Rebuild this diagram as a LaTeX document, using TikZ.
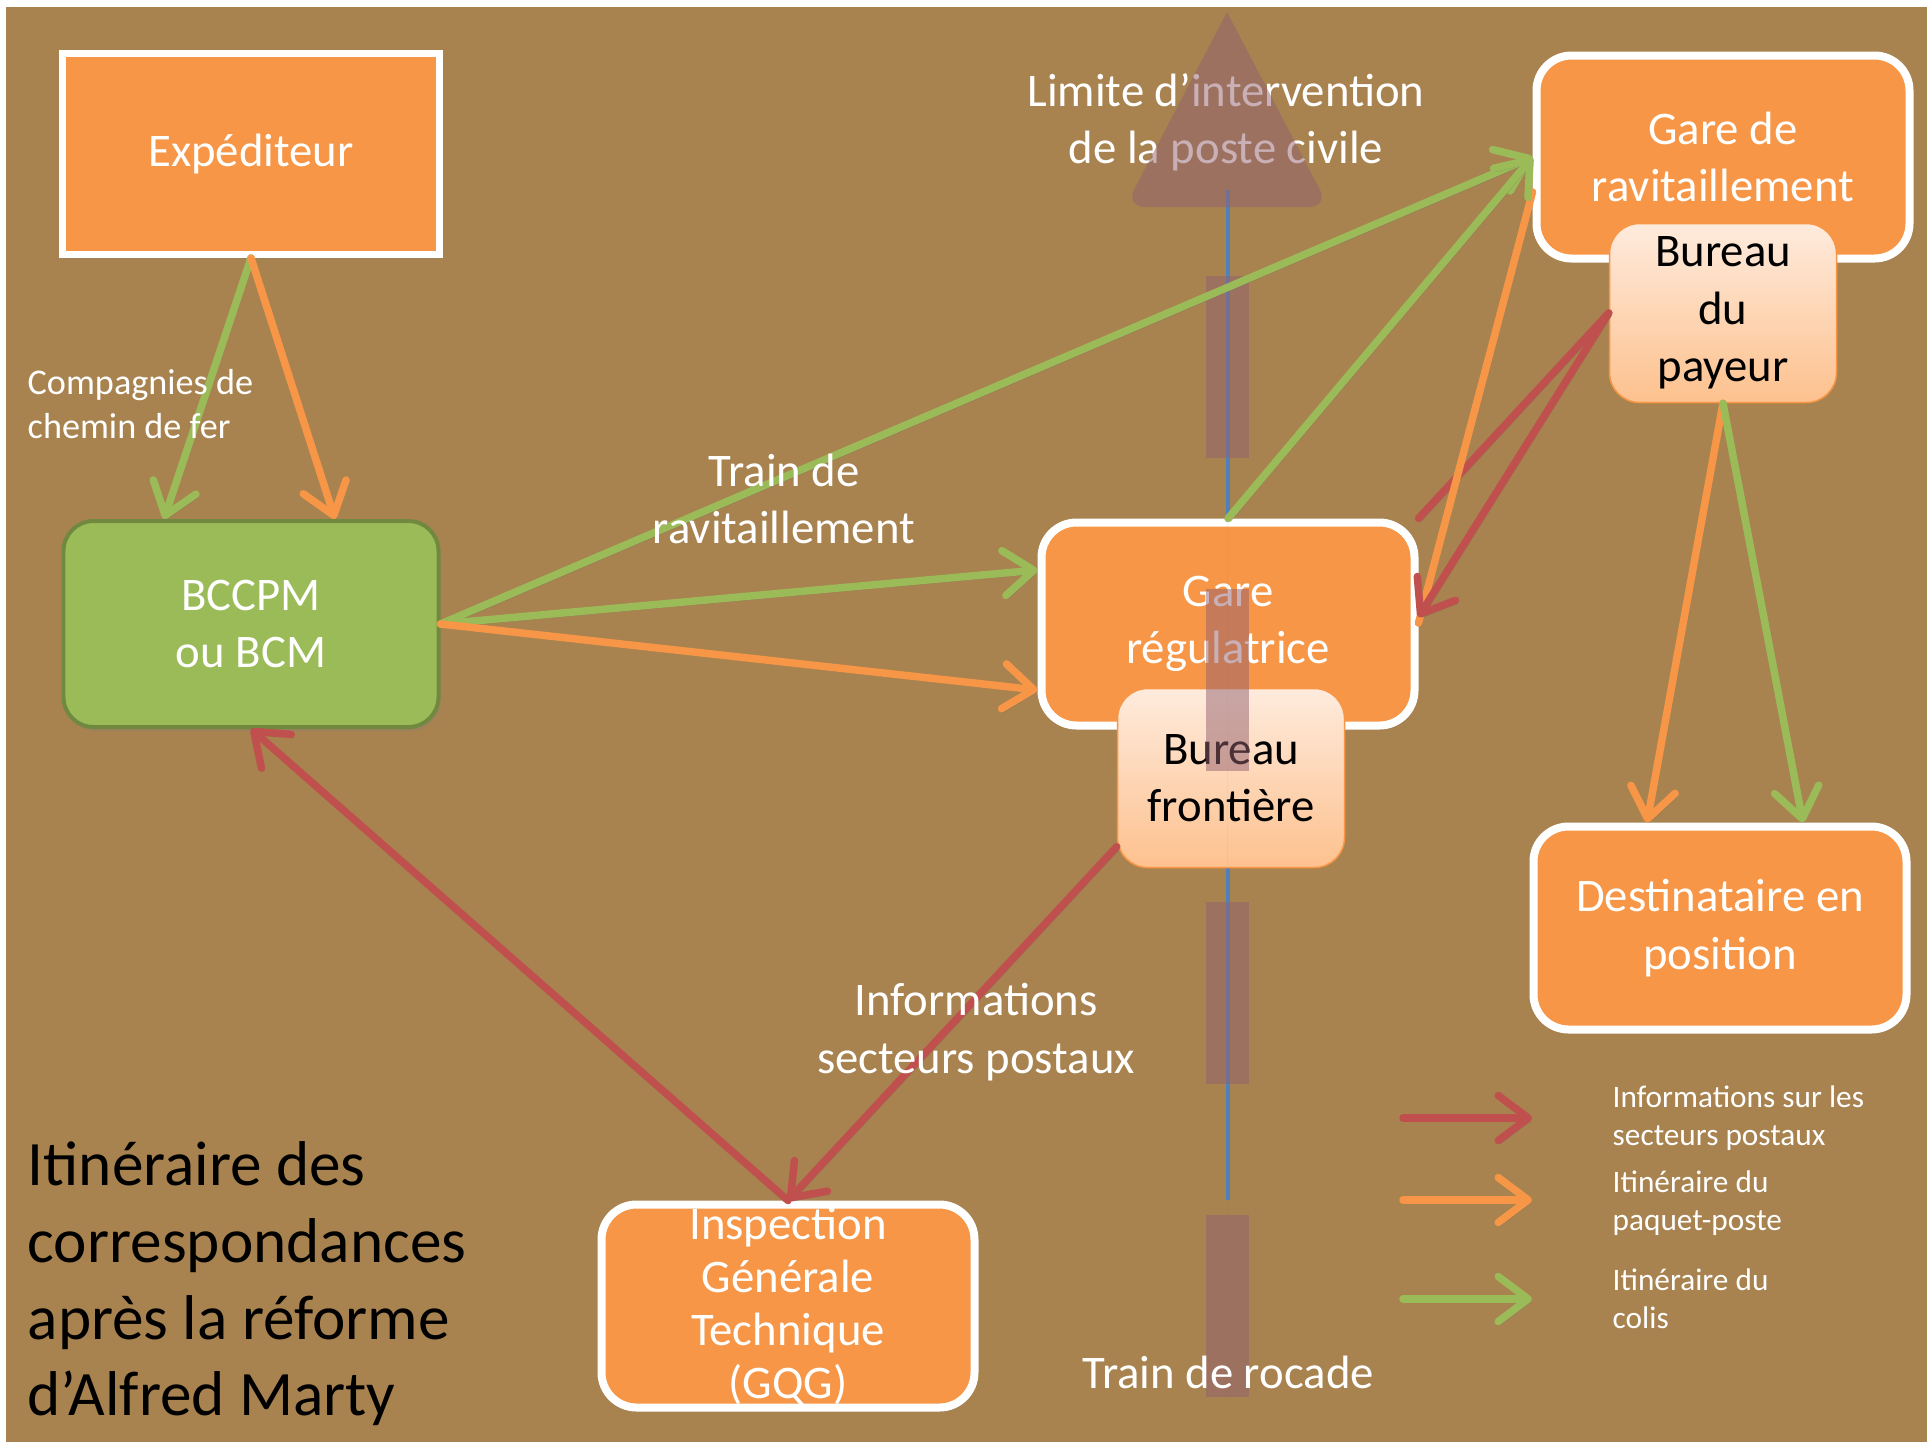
\documentclass[tikz,border=0pt]{standalone}
\usepackage{fontspec}
\setmainfont{Carlito}
\usetikzlibrary{shapes.geometric, arrows.meta, calc, shadows}
\definecolor{bgbrown}{HTML}{A8834F}
\definecolor{boxorange}{HTML}{F79646}
\definecolor{boxgreen}{HTML}{9BBB59}
\definecolor{boxgreendark}{HTML}{71893F}
\definecolor{infored}{HTML}{C0504D}
\definecolor{lineblue}{HTML}{4F81BD}
\definecolor{peachtop}{HTML}{FEEBDD}
\definecolor{peachbot}{HTML}{FDC18E}
\definecolor{limitcol}{HTML}{94616F}
\tikzstyle{sender} = [rectangle, minimum width=3.77cm, minimum height=2.01cm, text centered, draw=white, line width=0.07cm, fill=boxorange, text=white, font=\fontsize{13.3}{16.3}\selectfont, drop shadow={shadow xshift=0.02cm, shadow yshift=-0.04cm, opacity=0.3}]
\tikzstyle{bcm} = [rectangle, rounded corners=0.3cm, minimum width=3.75cm, minimum height=2.06cm, align=center, draw=boxgreendark, line width=0.04cm, fill=boxgreen, text=white, font=\fontsize{13.3}{16.3}\selectfont, drop shadow={shadow xshift=0.02cm, shadow yshift=-0.04cm, opacity=0.3}]
\tikzstyle{station} = [rectangle, rounded corners=0.35cm, minimum width=3.73cm, minimum height=2.03cm, align=center, draw=white, line width=0.08cm, fill=boxorange, text=white, font=\fontsize{13.3}{16.3}\selectfont, drop shadow={shadow xshift=0.02cm, shadow yshift=-0.04cm, opacity=0.3}]
\tikzstyle{bureau} = [rectangle, rounded corners=0.3cm, minimum width=2.27cm, minimum height=1.79cm, inner sep=0.05cm, align=center, draw=boxorange, line width=0.015cm, top color=peachtop, bottom color=peachbot, text=black, font=\fontsize{13.3}{16.3}\selectfont]
\tikzstyle{caption} = [text=white, align=center, font=\fontsize{13.3}{16.3}\selectfont]
\tikzstyle{legend} = [text=white, align=left, anchor=west, inner sep=0, font=\fontsize{8.9}{10.8}\selectfont]
\tikzstyle{arrow} = [line width=0.075cm, line cap=round, -{Straight Barb[length=0.3cm, width=0.45cm, round]}, preaction={draw=black!60, opacity=0.35, transform canvas={shift={(0.02,-0.03)}}}]
\tikzstyle{info} = [arrow, draw=infored]
\tikzstyle{paquet} = [arrow, draw=boxorange]
\tikzstyle{colis} = [arrow, draw=boxgreen]
\tikzstyle{limit} = [fill=limitcol, opacity=0.5]

\begin{document}
\begin{tikzpicture}[node distance=4.7cm]

    \useasboundingbox (0,0) rectangle (19.30,-14.42);
    \fill [white] (0,0) rectangle (19.30,-14.42);
    \fill [bgbrown] (0.06,-0.07) rectangle (19.27,-14.42);

    % ligne du front
    \coordinate (front_top) at (12.28,-1.90);
    \coordinate (front_bot) at (12.28,-12.00);
    \draw [lineblue, line width=0.045cm] (front_top) -- (front_bot);

    \node (exped) [sender] at (2.51,-1.54) {Expéditeur};
    \node (bccpm) [bcm, below of=exped] {BCCPM\\ou BCM};
    \node (gare_reg) [station, right of=bccpm, xshift=5.07cm] {Gare\\régulatrice};
    \node (bur_front) [bureau, below of=gare_reg, xshift=0.03cm, yshift=3.16cm] {Bureau\\frontière};
    \node (gare_rav) [station, above of=gare_reg, xshift=4.95cm, yshift=-0.03cm] {Gare de\\ravitaillement};
    \node (bur_pay) [bureau, below of=gare_rav, yshift=3.14cm] {Bureau\\du\\payeur};
    \node (dest) [station, below of=bur_pay, xshift=-0.03cm, yshift=-1.45cm] {Destinataire en\\position};
    \node (igt) [station, below of=bccpm, xshift=5.37cm, yshift=-2.12cm, inner ysep=0cm, font=\fontsize{13.3}{15.1}\selectfont] {Inspection\\Générale\\Technique\\(GQG)};

    \node (limit_label) [caption] at (12.26,-1.22) {Limite d’intervention\\de la poste civile};

    % grande fleche de la limite
    \fill [limit] (12.27,-0.12) [rounded corners=0.2cm] -- (11.25,-2.07) -- (13.29,-2.07) [sharp corners] -- cycle;
    \draw [limit, line width=0.43cm, draw=limitcol, dash pattern=on 1.82cm off 1.31cm] (12.27,-13.97) -- (12.27,-2.76);

    \draw [colis] (exped.south) -- ([xshift=-0.87cm]bccpm.north);
    \draw [paquet] (exped.south) -- ([xshift=0.84cm]bccpm.north);
    \draw [colis] (bccpm.east) -- (gare_rav.west);
    \draw [colis] (bccpm.east) -- ([yshift=0.54cm]gare_reg.west);
    \draw [paquet] (bccpm.east) -- ([yshift=-0.66cm]gare_reg.west);
    \draw [info, -] (bur_pay.west) -- (gare_reg.north east);
    \draw [paquet, -] ([yshift=0.01cm]gare_reg.east) -- ([yshift=-0.35cm]gare_rav.west);
    \draw [info] (bur_pay.west) -- ([yshift=0.07cm]gare_reg.east);
    \draw [colis] (gare_reg.north) -- (gare_rav.west);
    \draw [paquet] (bur_pay.south) -- ([xshift=-0.73cm]dest.north);
    \draw [colis] (bur_pay.south) -- ([xshift=0.83cm]dest.north);
    \draw [info] (bur_front.211) -- (igt.north);
    \draw [info] (igt.north) -- (bccpm.south);

    \node (rail_label) [text=white, align=left, anchor=west, inner sep=0, font=\fontsize{10.3}{12.6}\selectfont] at (0.27,-4.04) {Compagnies de\\chemin de fer};
    \node (rav_label) [caption] at (7.84,-4.99) {Train de\\ravitaillement};
    \node (info_label) [caption] at (9.76,-10.32) {Informations\\secteurs postaux};
    \node (rocade_label) [caption] at (12.28,-13.72) {Train de rocade};
    \node (title) [text=black, align=left, anchor=west, inner sep=0, font=\fontsize{18}{21.8}\selectfont] at (0.27,-12.84) {Itinéraire des\\correspondances\\après la réforme\\d’Alfred Marty};

    % legende
    \coordinate (leg_info_a) at (14.03,-11.18);
    \coordinate (leg_info_b) at (15.32,-11.18);
    \coordinate (leg_paquet_a) at (14.03,-12.00);
    \coordinate (leg_paquet_b) at (15.32,-12.00);
    \coordinate (leg_colis_a) at (14.03,-12.99);
    \coordinate (leg_colis_b) at (15.32,-12.99);
    \draw [info] (leg_info_a) -- (leg_info_b);
    \draw [paquet] (leg_paquet_a) -- (leg_paquet_b);
    \draw [colis] (leg_colis_a) -- (leg_colis_b);
    \node (leg_info) [legend] at (16.12,-11.18) {Informations sur les\\secteurs postaux};
    \node (leg_paquet) [legend] at (16.12,-12.03) {Itinéraire du\\paquet-poste};
    \node (leg_colis) [legend] at (16.12,-12.99) {Itinéraire du\\colis};
\end{tikzpicture}
\end{document}
